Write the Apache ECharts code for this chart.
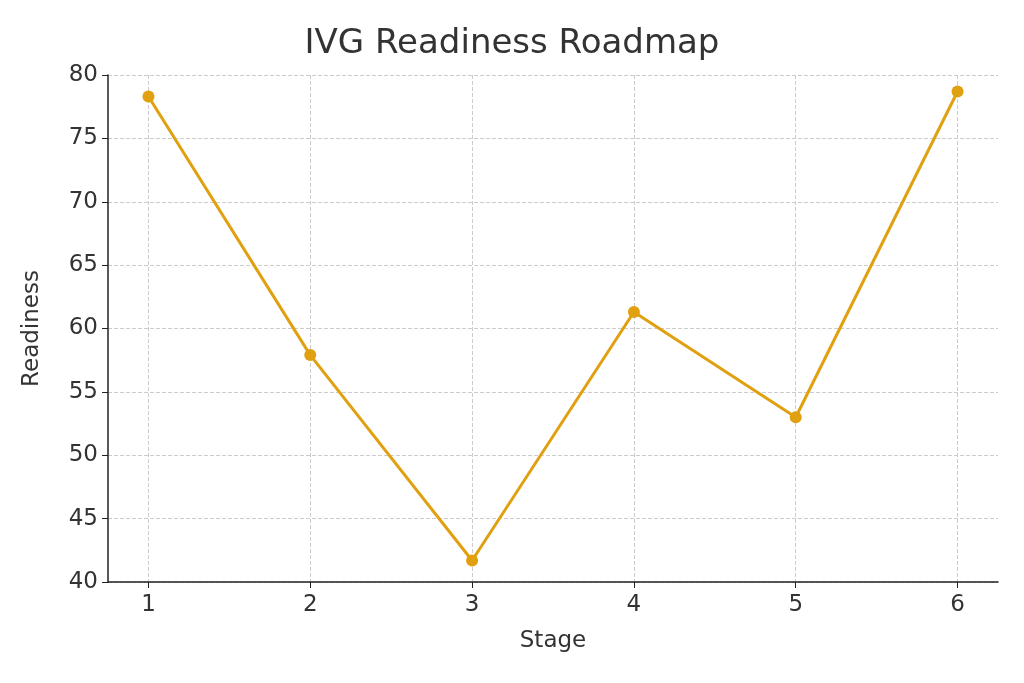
<!DOCTYPE html><html><head><meta charset="utf-8"><script src="https://cdn.jsdelivr.net/npm/echarts@6/dist/echarts.min.js"></script></head><body style="margin:0"><div id="c" style="width:1024px;height:683px"></div><script>
const stages=[1,2,3,4,5,6];
const readiness=[78.3,57.9,41.7,61.3,53.0,78.7];
const c=echarts.init(document.getElementById('c'));
const f='DejaVu Sans';
c.setOption({backgroundColor:'#fff',
title:{text:'IVG Readiness Roadmap',left:'center',top:22,textStyle:{fontFamily:f,fontSize:34,fontWeight:'normal',color:'#333'}},
grid:{left:108,right:26,top:75,bottom:101},
xAxis:{type:'value',min:0.75,max:6.25,name:'Stage',nameLocation:'middle',nameGap:48,nameTextStyle:{fontFamily:f,fontSize:23,color:'#333'},
axisLine:{lineStyle:{color:'#222',width:1.5}},axisTick:{customValues:stages,length:6,lineStyle:{color:'#222'}},
axisLabel:{customValues:stages,fontFamily:f,fontSize:23,color:'#333',margin:12},
splitLine:{show:true,lineStyle:{type:'dashed',color:'#ccc'}}},
yAxis:{type:'value',min:40,max:80,interval:5,name:'Readiness',nameLocation:'middle',nameGap:64,nameTextStyle:{fontFamily:f,fontSize:23,color:'#333'},
axisLine:{show:true,lineStyle:{color:'#222',width:1.5}},axisTick:{show:true,length:6,lineStyle:{color:'#222'}},
axisLabel:{fontFamily:f,fontSize:23,color:'#333',margin:10},
splitLine:{lineStyle:{type:'dashed',color:'#ccc'}}},
series:[{type:'line',data:stages.map((s,i)=>[s,readiness[i]]),symbol:'circle',symbolSize:12,
lineStyle:{color:'#E0A010',width:3},itemStyle:{color:'#E0A010'}}]});
</script></body></html>
